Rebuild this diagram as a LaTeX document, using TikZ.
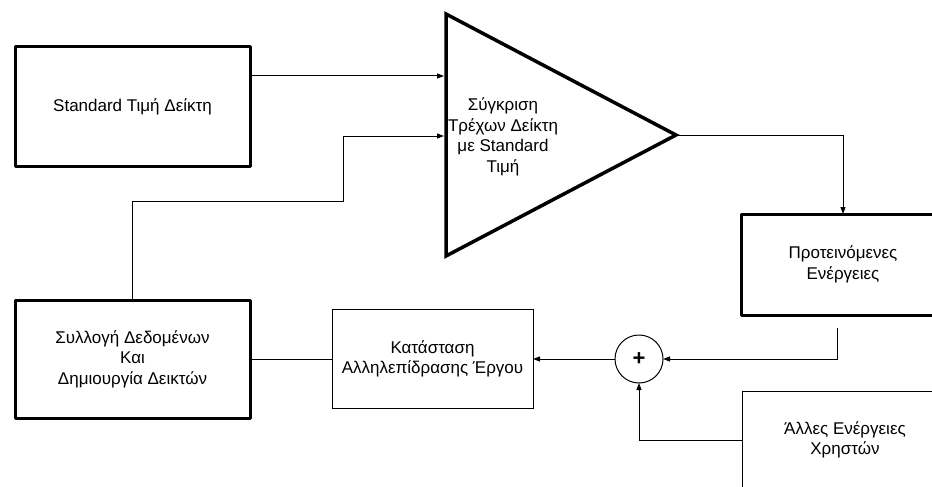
\documentclass[tikz,border=0pt]{standalone}
\usepackage{fontspec}
\setmainfont{Liberation Sans}
\usetikzlibrary{arrows.meta}
\begin{document}
\begin{tikzpicture}[x=1pt,y=-1pt,
  every node/.style={font=\fontsize{17}{20.5}\selectfont, align=center, inner sep=0pt, outer sep=0pt},
  thickbox/.style={draw, line width=3pt, line join=round},
  thinbox/.style={draw, line width=1pt},
  wire/.style={line width=1pt},
  arr/.style={wire, -{Triangle[length=7pt,width=5pt]}}]
\useasboundingbox (0,0) rectangle (932,487);
\clip (0,0) rectangle (932,487);
% boxes
\node[thickbox, minimum width=235pt, minimum height=119pt] (std) at (132.5,106.5) {Standard Τιμή Δείκτη};
\node[thickbox, minimum width=235pt, minimum height=118pt] (col) at (132.5,359) {Συλλογή Δεδομένων\\Και\\Δημιουργία Δεικτών};
\node[thinbox, minimum width=201pt, minimum height=99pt] (kat) at (432.5,359) {Κατάσταση\\Αλληλεπίδρασης Έργου};
\node[thickbox, minimum width=204pt, minimum height=101pt] (prop) at (843,264.5) {Προτεινόμενες\\Ενέργειες};
\node[thinbox, minimum width=206pt, minimum height=98pt] (other) at (845,440) {Άλλες Ενέργειες\\Χρηστών};
\node[draw, circle, line width=1pt, minimum size=48pt, font=\fontsize{22}{22}\bfseries\selectfont] (sum) at (639,359) {+};
% comparator triangle
\coordinate (tA) at (446,14);
\coordinate (tB) at (446,256);
\coordinate (tC) at (676,135);
\draw[line width=3.5pt, line join=miter] (tA) -- (tB) -- (tC) -- cycle;
\node (cmp) at (503,137) {Σύγκριση\\Τρέχων Δείκτη\\με Standard\\Τιμή};
% connectors
\coordinate (in1) at (444,76);
\coordinate (in2) at (444,136);
\coordinate (bend1) at (343,201);
\coordinate (pout) at (837,328);
\draw[arr] (std.east |- in1) -- (in1);
\draw[arr] (col.north) |- (bend1) |- (in2);
\draw[arr] (tC) -| (prop.north);
\draw[arr] (pout) |- (sum.east);
\draw[arr] (sum.west) -- (kat.east);
\draw[wire] (kat.west) -- (col.east);
\draw[arr] (other.west) -| (sum.south);
\end{tikzpicture}
\end{document}
